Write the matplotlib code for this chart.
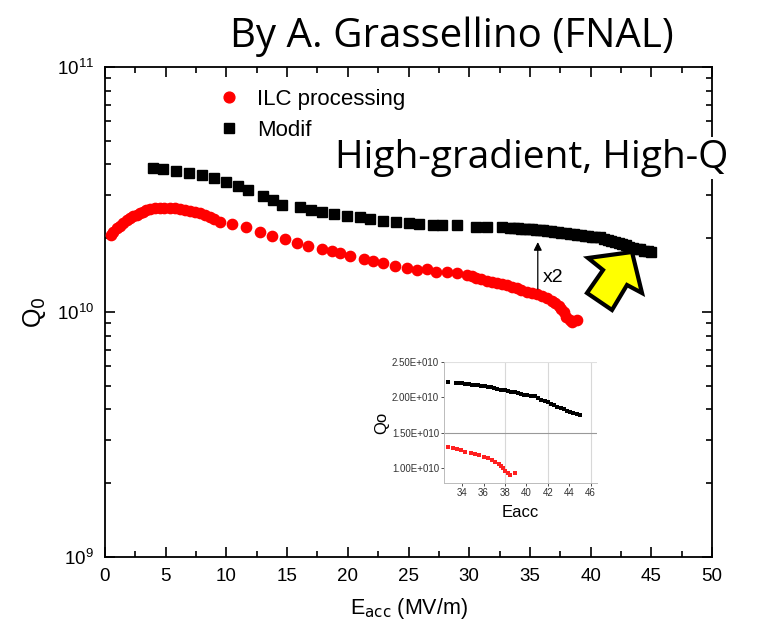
import numpy as np
import matplotlib
matplotlib.use("Agg")
import matplotlib.pyplot as plt
from matplotlib.patches import Polygon
from matplotlib.ticker import MultipleLocator, LogLocator, NullFormatter

# ---------------- data ----------------
ilc_E = [0.5, 0.7, 0.98, 1.2, 1.5, 1.8, 2.05, 2.3, 2.6, 2.9, 3.1, 3.4, 3.7, 4.1, 4.5, 4.9,
         5.35, 5.8, 6.2, 6.6, 7.0, 7.4, 7.8, 8.2, 8.65, 9.0, 9.5, 10.45, 11.6, 12.75, 13.75,
         14.8, 15.8, 16.7, 17.85, 18.7, 19.35, 20.2, 21.3, 22.1, 22.9, 23.9, 24.9, 25.7,
         26.5, 27.3, 28.2, 29.0, 29.8, 30.2, 30.6, 31.0, 31.5, 31.9, 32.3, 32.7, 33.1, 33.5,
         33.9, 34.3, 34.8, 35.2, 35.6, 36.0, 36.4, 36.8, 37.1, 37.4, 37.6, 37.8, 38.0, 38.3,
         38.5, 38.9]
ilc_Q = [2.06, 2.12, 2.20, 2.25, 2.31, 2.37, 2.42, 2.46, 2.49, 2.53, 2.56, 2.60, 2.63, 2.65,
         2.66, 2.66, 2.66, 2.65, 2.63, 2.61, 2.58, 2.56, 2.54, 2.50, 2.44, 2.40, 2.33, 2.29,
         2.22, 2.12, 2.04, 1.99, 1.91, 1.86, 1.81, 1.77, 1.74, 1.69, 1.65, 1.62, 1.58, 1.54,
         1.51, 1.48, 1.50, 1.46, 1.46, 1.44, 1.42, 1.40, 1.38, 1.36, 1.34, 1.33, 1.31, 1.30,
         1.29, 1.27, 1.25, 1.23, 1.21, 1.20, 1.18, 1.16, 1.14, 1.11, 1.09, 1.06, 1.03, 1.00,
         0.954, 0.93, 0.91, 0.93]

mod_E = [3.95, 4.8, 5.85, 6.9, 8.0, 9.0, 10.0, 10.95, 11.8, 13.0, 13.85, 14.6, 16.1, 16.95,
         17.9, 18.9, 19.9, 21.0, 21.8, 22.9, 24.0, 25.0, 25.9, 27.0, 27.8, 29.0, 30.6, 31.5,
         32.7, 33.4, 33.7, 34.0, 34.3, 34.6, 34.9, 35.2, 35.5, 35.8, 36.1, 36.4, 36.7, 37.0,
         37.3, 37.6, 38.0, 38.3, 38.6, 38.9, 39.2, 39.5, 39.8, 40.1, 40.4, 40.8, 41.1, 41.4,
         41.7, 42.0, 42.3, 42.6, 42.9, 43.2, 43.5, 43.8, 44.1, 44.4, 44.7, 45.0]
mod_Q = [3.86, 3.82, 3.76, 3.69, 3.62, 3.52, 3.39, 3.27, 3.15, 2.97, 2.86, 2.73, 2.68, 2.61,
         2.56, 2.51, 2.47, 2.44, 2.40, 2.35, 2.33, 2.31, 2.29, 2.26, 2.26, 2.26, 2.22, 2.22,
         2.22, 2.20, 2.20, 2.20, 2.19, 2.19, 2.18, 2.18, 2.17, 2.16, 2.16, 2.15, 2.14, 2.13,
         2.12, 2.11, 2.10, 2.09, 2.08, 2.07, 2.06, 2.05, 2.04, 2.03, 2.02, 2.02, 1.99, 1.97,
         1.95, 1.93, 1.91, 1.89, 1.87, 1.85, 1.83, 1.81, 1.80, 1.78, 1.77, 1.75]

Q_SCALE = 1e10
series_labels = ["ILC processing", "Modif"]

x_ticks = [0, 5, 10, 15, 20, 25, 30, 35, 40, 45, 50]
inset_x_ticks = [34, 36, 38, 40, 42, 44, 46]
inset_y_ticks = [1.0e10, 1.5e10, 2.0e10, 2.5e10]
inset_y_labels = ["1.00E+010", "1.50E+010", "2.00E+010", "2.50E+010"]
inset_E_min = 32.5

# ---------------- figure ----------------
W, H = 773, 633
fig = plt.figure(figsize=(W / 100, H / 100), dpi=100)
plt.rcParams["font.family"] = ["Liberation Sans", "DejaVu Sans"]

ax = fig.add_axes([105 / W, 1 - 557 / H, (712 - 105) / W, (557 - 67) / H])
ilcE = np.array(ilc_E)
ilcQ = np.array(ilc_Q) * Q_SCALE
modE = np.array(mod_E)
modQ = np.array(mod_Q) * Q_SCALE

ax.plot(ilcE, ilcQ, "o", color="#ff0000", ms=7.4, mec="#ff0000", label=series_labels[0], zorder=3)
ax.plot(modE, modQ, "s", color="black", ms=6.8, label=series_labels[1], zorder=3)

ax.set_yscale("log")
ax.set_xlim(0, 50)
ax.set_ylim(1e9, 1e11)
ax.set_xticks(x_ticks)
ax.xaxis.set_minor_locator(MultipleLocator(2.5))
ax.yaxis.set_major_locator(LogLocator(base=10, numticks=5))
ax.yaxis.set_minor_locator(LogLocator(base=10, subs=np.arange(2, 10), numticks=20))
ax.yaxis.set_minor_formatter(NullFormatter())
ax.tick_params(which="both", direction="in", top=True, right=True, width=1.2,
               labelsize=13.5)
ax.tick_params(which="major", length=7)
ax.tick_params(which="minor", length=4)
ax.tick_params(axis="x", pad=8)
ax.tick_params(axis="y", pad=8)
for s in ax.spines.values():
    s.set_linewidth(1.3)

ax.set_xlabel(r"E$_{\rm acc}$ (MV/m)", fontsize=15.5, labelpad=8)
ax.set_ylabel(r"Q$_0$", fontsize=18, labelpad=6)

leg = ax.legend(loc="upper left", bbox_to_anchor=(0.15, 1.0), frameon=False, fontsize=16,
                handletextpad=0.75, labelspacing=0.45, markerscale=1.05, handlelength=1.0,
                borderaxespad=0.6)

# x2 arrow
ax.annotate("", xy=(35.65, 1.98e10), xytext=(35.65, 1.21e10),
            arrowprops=dict(arrowstyle="-|>", color="black", lw=0.9, mutation_scale=12))
ax.text(36.1, 1.38e10, "x2", fontsize=14, va="center", ha="left")

# ---------------- inset ----------------
ins = fig.add_axes([444 / W, 1 - 483 / H, (597 - 444) / W, (483 - 362) / H])
mi = ilcE >= inset_E_min
mm = modE >= inset_E_min
ins.plot(ilcE[mi], ilcQ[mi], "s", color="#ff2020", ms=2.4, mew=0)
ins.plot(modE[mm], modQ[mm], "s", color="black", ms=3.3, mew=0)
ins.set_xlim(32.3, 46.6)
ins.set_ylim(0.79e10, 2.5e10)
ins.set_xticks(inset_x_ticks)
ins.set_yticks(inset_y_ticks)
ins.set_yticklabels(inset_y_labels)
ins.tick_params(labelsize=7, colors="#333333", length=2, width=0.6, pad=1.5)
for sp in ["top", "right"]:
    ins.spines[sp].set_visible(False)
for sp in ["left", "bottom"]:
    ins.spines[sp].set_color("#bbbbbb")
    ins.spines[sp].set_linewidth(0.7)
for gx in (38, 42, 46):
    ins.axvline(gx, color="#d8d8d8", lw=0.8, zorder=0)
ins.axhline(1.5e10, color="#999999", lw=0.8, zorder=0)
ins.axhline(2.5e10, color="#e0e0e0", lw=0.8, zorder=0)
ins.set_xlabel("Eacc", fontsize=12, labelpad=5)
ins.set_ylabel("Qo", fontsize=12, labelpad=2)
ins.patch.set_alpha(0)

# ---------------- slide annotations ----------------
fig.text(452 / W, 1 - 47 / H, "By A. Grassellino (FNAL)", family=["Open Sans", "DejaVu Sans"],
         fontsize=29, ha="center", va="baseline")
fig.text(335 / W, 1 - 168 / H, "High-gradient, High-Q", family=["Open Sans", "DejaVu Sans"],
         fontsize=28, ha="left", va="baseline",
         bbox=dict(facecolor="white", edgecolor="none", pad=1), zorder=5)

arrow_px = [(632, 252), (642, 293), (627, 285), (612, 310), (587, 293), (603, 270), (588, 258)]
arrow_pts = [(x / W, 1 - y / H) for x, y in arrow_px]
fig.patches.append(Polygon(arrow_pts, closed=True, facecolor="#ffff00", edgecolor="black",
                           linewidth=3, joinstyle="miter", transform=fig.transFigure,
                           figure=fig, zorder=6))

fig.savefig("out.png", dpi=100)
